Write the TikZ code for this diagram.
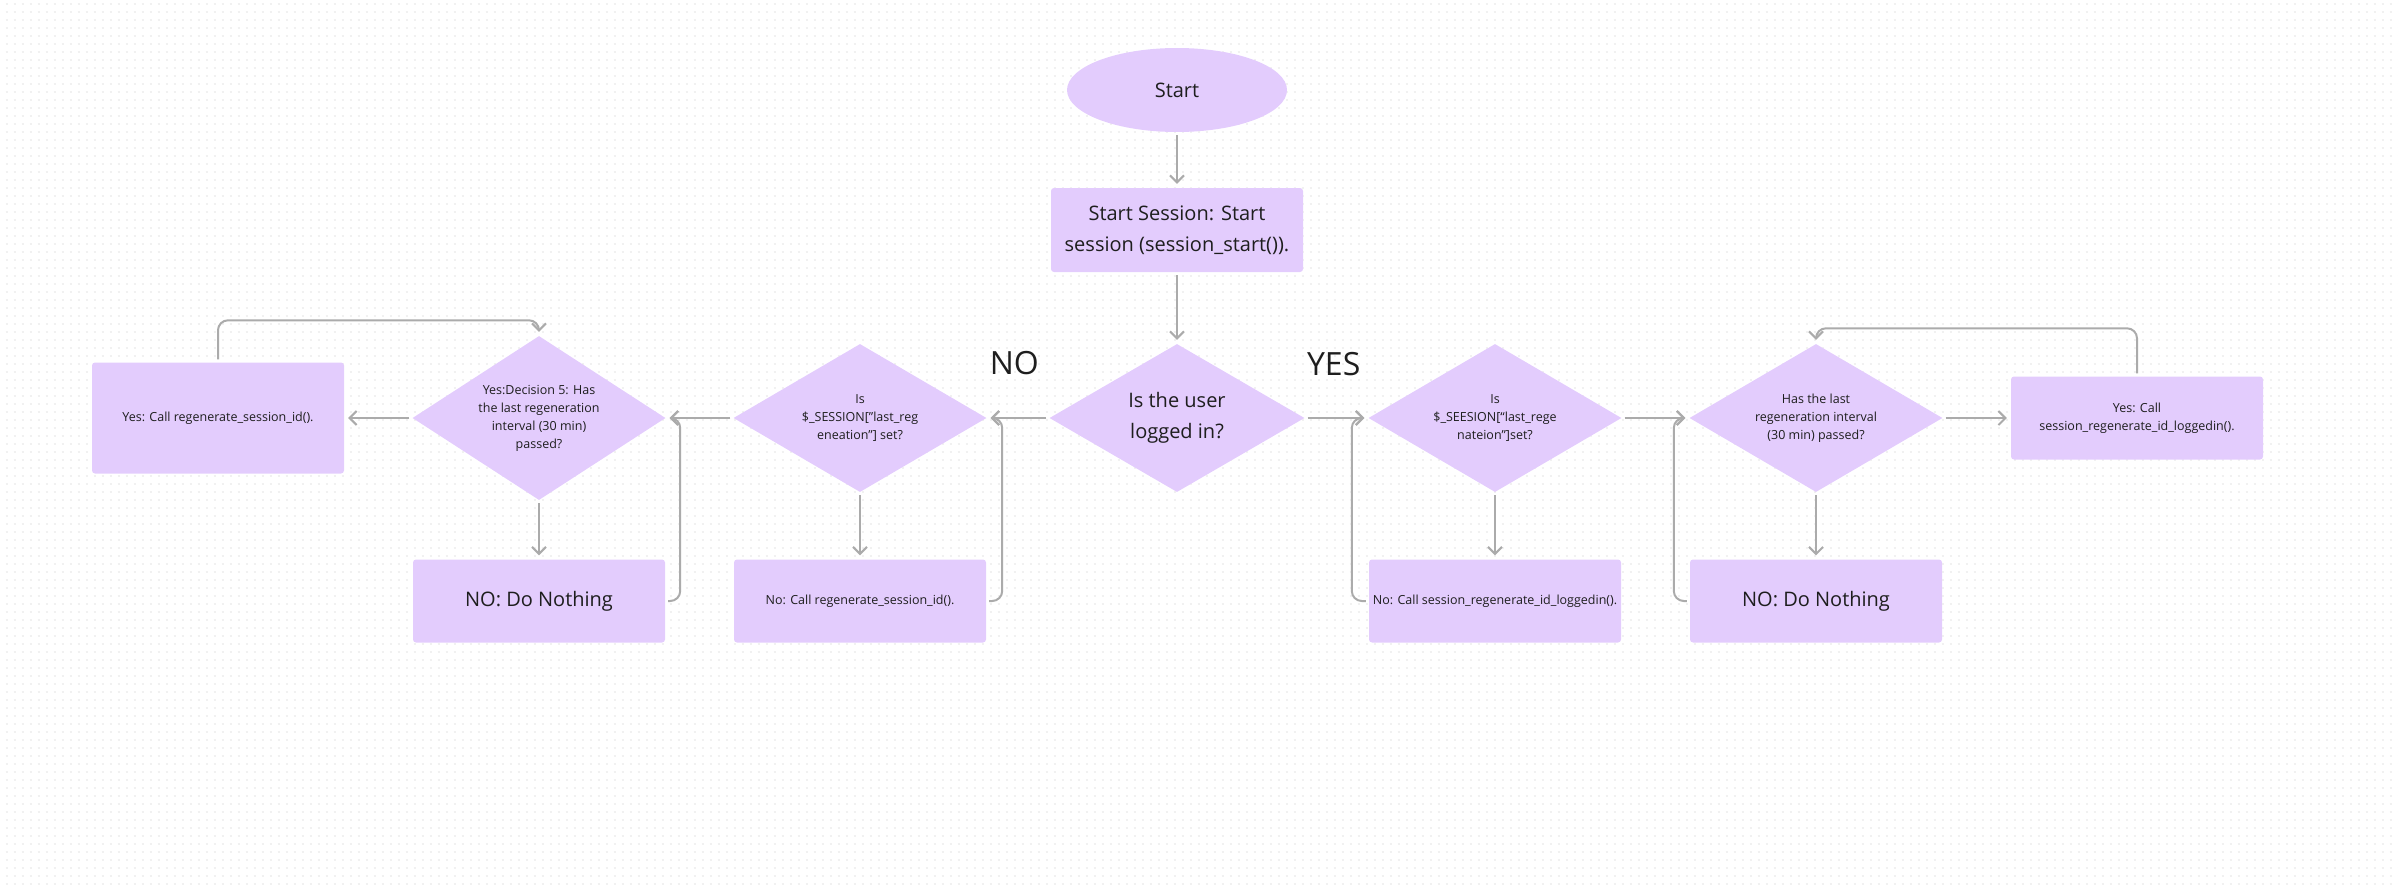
\documentclass[tikz,border=0pt]{standalone}
\usepackage{fontspec}
\setmainfont{Open Sans}
\usepackage{xcolor}
\usepackage{tikz}
\usetikzlibrary{shapes.geometric, arrows.meta, positioning}

\definecolor{nodefill}{HTML}{E3CCFD}
\definecolor{linegray}{HTML}{ABABAB}
\definecolor{textdark}{HTML}{1E1E1E}

\begin{document}
\begin{tikzpicture}[x=1pt,y=1pt,node distance=321pt,
                    every node/.style={text=textdark},
                    main font/.style={font=\fontsize{20}{31}\selectfont},
                    small font/.style={font=\fontsize{12.5}{18}\selectfont},
                    start node/.style={ellipse,fill=nodefill,minimum width=220pt,minimum height=84pt,inner sep=0pt,main font},
                    box node/.style={rectangle,rounded corners=3pt,fill=nodefill,minimum width=252pt,minimum height=83pt,inner sep=0pt,align=center},
                    decision node/.style={diamond,aspect=1.6,fill=nodefill,minimum width=253pt,minimum height=148pt,inner sep=0pt,align=center},
                    flow/.style={linegray,line width=2pt,-{Straight Barb[length=7pt,width=14pt]},shorten <=3pt,shorten >=4pt},
                    loop line/.style={flow,rounded corners=10pt}]

  % dotted canvas
  \useasboundingbox (0,0) rectangle (2398,-888);
  \foreach \y in {3.7,11.7,...,888}
    \draw[gray!11,line width=2pt,dash pattern=on 2pt off 6pt] (5.7,-\y) -- (2398,-\y);

  \node[start node] (1) at (1177,-90) {Start};
  \node[box node,main font,node distance=140pt,below of=1,minimum height=84pt] (2) {Start Session: Start\\session (session\_start()).};
  \node[decision node,main font,node distance=188pt,below of=2,minimum width=255pt] (3) {Is the user\\logged in?};

  % not logged in
  \node[decision node,small font,node distance=317pt,left of=3] (4) {Is\\\$\_SESSION["last\_reg\\eneation"] set?};
  \node[decision node,small font,left of=4,minimum height=164pt] (5) {Yes:Decision 5: Has\\the last regeneration\\interval (30 min)\\passed?};
  \node[box node,small font,left of=5,minimum height=111pt] (6) {Yes: Call regenerate\_session\_id().};
  \node[box node,small font,node distance=183pt,below of=4] (7) {No: Call regenerate\_session\_id().};
  \node[box node,main font,node distance=183pt,below of=5] (8) {NO: Do Nothing};

  % logged in
  \node[decision node,small font,node distance=318pt,right of=3] (9) {Is\\\$\_SEESION[“last\_rege\\nateion”]set?};
  \node[decision node,small font,right of=9] (10) {Has the last\\regeneration interval\\(30 min) passed?};
  \node[box node,small font,right of=10] (11) {Yes: Call\\session\_regenerate\_id\_loggedin().};
  \node[box node,small font,node distance=183pt,below of=9] (12) {No: Call session\_regenerate\_id\_loggedin().};
  \node[box node,main font,node distance=183pt,below of=10] (13) {NO: Do Nothing};

  \node (No) [font=\fontsize{32}{32}\selectfont,xshift=-35pt,yshift=55pt] at (3.west) {NO};
  \node (Yes) [font=\fontsize{32}{32}\selectfont,xshift=29pt,yshift=54pt] at (3.east) {YES};

  \path[flow]
    (1) edge (2)
    (2) edge (3)
    (3) edge (4)
    (4) edge (5)
    (5) edge (6)
    (4) edge (7)
    (5) edge (8)
    (3) edge (9)
    (9) edge (10)
    (10) edge (11)
    (9) edge (12)
    (10) edge (13);

  \draw[loop line] (7.east) -- ++(16,0) |- (4.east);
  \draw[loop line] (8.east) -- ++(15,0) |- (5.east);
  \draw[loop line] (12.west) -- ++(-17,0) |- (9.west);
  \draw[loop line] (13.west) -- ++(-16,0) |- (10.west);
  \draw[loop line] (6.north) -- ++(0,42) -| (5.north);
  \draw[loop line] (11.north) -- ++(0,48) -| (10.north);
\end{tikzpicture}
\end{document}
